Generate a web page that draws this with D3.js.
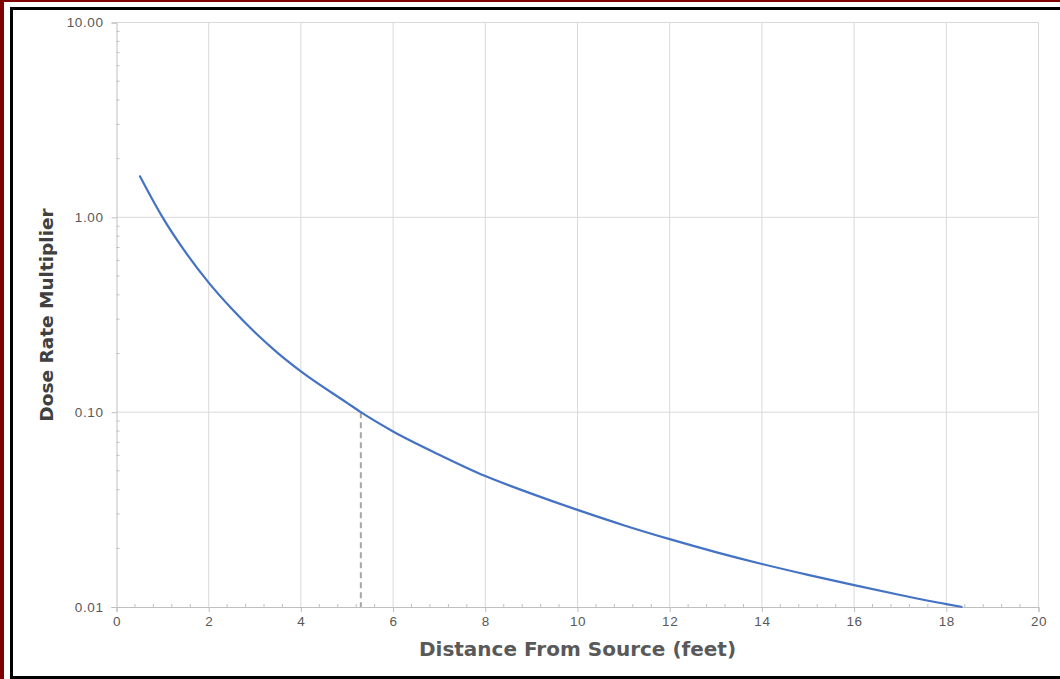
<!DOCTYPE html>
<html>
<head>
<meta charset="utf-8">
<script src="https://cdn.jsdelivr.net/npm/d3@7"></script>
<style>
  body { margin: 0; background: #fff; }
  text { font-family: "Liberation Sans", Arial, sans-serif; }
</style>
</head>
<body>
<script>
// distance (feet) vs dose multiplier
var distance = [0.5, 0.8, 1, 1.5, 2, 2.5, 3, 3.5, 4, 5, 5.3, 6, 7, 8, 9, 10, 11, 12, 13, 14, 15, 16, 17, 18, 18.35];
var multiplier = [1.64, 1.21, 1.0, 0.661, 0.462, 0.339, 0.257, 0.201, 0.162, 0.1117, 0.1, 0.0796, 0.0605, 0.047, 0.0382, 0.0315, 0.0263, 0.0223, 0.01914, 0.01663, 0.01462, 0.01294, 0.01153, 0.01035, 0.01];
var xTicks = [0, 2, 4, 6, 8, 10, 12, 14, 16, 18, 20];
var yTicks = [0.01, 0.1, 1, 10];
var marker = {x: 5.3, y: 0.1};

var W = 1060, H = 679;
var pLeft = 116.5, pRight = 1038.5, pTop = 22.5, pBottom = 607;

var svg = d3.select("body").append("svg").attr("width", W).attr("height", H);

// frame
svg.append("rect").attr("x", 0).attr("y", 0).attr("width", W).attr("height", H).attr("fill", "#fff");
svg.append("rect").attr("x", 0).attr("y", 0).attr("width", 4).attr("height", H).attr("fill", "#7f0000");
svg.append("rect").attr("x", 0).attr("y", 0).attr("width", W).attr("height", 2).attr("fill", "#7f0000");
svg.append("rect").attr("x", 11.5).attr("y", 8.5).attr("width", W + 10).attr("height", 669)
  .attr("fill", "none").attr("stroke", "#000").attr("stroke-width", 3);

var x = d3.scaleLinear().domain([0, 20]).range([pLeft, pRight]);
var y = d3.scaleLog().domain([0.01, 10]).range([pBottom, pTop]);

// grid
svg.append("g").selectAll("line").data(xTicks.slice(1)).join("line")
  .attr("x1", d => x(d)).attr("x2", d => x(d)).attr("y1", pTop).attr("y2", pBottom)
  .attr("stroke", "#d9d9d9").attr("stroke-width", 1);
svg.append("g").selectAll("line").data(yTicks.slice(1)).join("line")
  .attr("x1", pLeft).attr("x2", pRight).attr("y1", d => y(d)).attr("y2", d => y(d))
  .attr("stroke", "#d9d9d9").attr("stroke-width", 1);

// minor ticks
var yMinor = [];
[0.01, 0.1, 1].forEach(function (b) { for (var k = 2; k <= 9; k++) yMinor.push(b * k); });
svg.append("g").selectAll("line").data(yMinor).join("line")
  .attr("x1", pLeft).attr("x2", pLeft + 3).attr("y1", d => y(d)).attr("y2", d => y(d))
  .attr("stroke", "#bfbfbf");
var xMinor = d3.range(0, 20, 0.4).filter(d => Math.abs(d / 2 - Math.round(d / 2)) > 0.01);
svg.append("g").selectAll("line").data(xMinor).join("line")
  .attr("x1", d => x(d)).attr("x2", d => x(d)).attr("y1", pBottom).attr("y2", pBottom - 3)
  .attr("stroke", "#bfbfbf");

// axes
var xAxis = d3.axisBottom(x).tickValues(xTicks).tickSize(5).tickPadding(4).tickFormat(d3.format("d"));
var gx = svg.append("g").attr("transform", "translate(0," + pBottom + ")").call(xAxis);
var yAxis = d3.axisLeft(y).tickValues(yTicks).tickSize(5).tickPadding(8).tickFormat(d3.format(".2f"));
var gy = svg.append("g").attr("transform", "translate(" + pLeft + ",0)").call(yAxis);
[gx, gy].forEach(function (g) {
  g.select(".domain").attr("stroke", "#bfbfbf");
  g.selectAll(".tick line").attr("stroke", "#bfbfbf");
  g.selectAll(".tick text").attr("fill", "#595959").style("font-size", "13.5px")
    .style("letter-spacing", "0.6px")
    .style("font-family", "'Liberation Sans', Arial, sans-serif");
});

// dashed marker
svg.append("line")
  .attr("x1", x(marker.x)).attr("x2", x(marker.x)).attr("y1", y(marker.y)).attr("y2", pBottom)
  .attr("stroke", "#a6a6a6").attr("stroke-width", 2).attr("stroke-dasharray", "6,4");

// curve
var pts = distance.map((d, i) => [d, multiplier[i]]);
var line = d3.line().x(d => x(d[0])).y(d => y(d[1])).curve(d3.curveMonotoneX);
svg.append("path").datum(pts).attr("d", line)
  .attr("fill", "none").attr("stroke", "#4472c4").attr("stroke-width", 2.2);

// titles
svg.append("text").attr("x", (pLeft + pRight) / 2).attr("y", 656).attr("text-anchor", "middle")
  .attr("fill", "#595959").style("font-size", "20px").style("font-weight", "bold")
  .style("font-family", "'DejaVu Sans', sans-serif")
  .text("Distance From Source (feet)");
svg.append("text").attr("transform", "translate(53,315) rotate(-90)").attr("text-anchor", "middle")
  .attr("fill", "#404040").style("font-size", "18.5px").style("font-weight", "bold")
  .style("font-family", "'DejaVu Sans', sans-serif")
  .text("Dose Rate Multiplier");
</script>
</body>
</html>
